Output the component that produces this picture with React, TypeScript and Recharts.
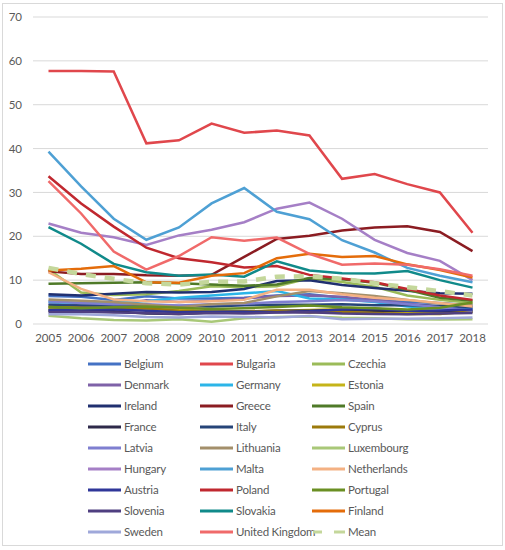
import React from 'react';
import { LineChart, Line, XAxis, YAxis, CartesianGrid, Legend } from 'recharts';

const years = ['2005','2006','2007','2008','2009','2010','2011','2012','2013','2014','2015','2016','2017','2018'];
const yTicks = [0, 10, 20, 30, 40, 50, 60, 70];

const Belgium = [6.4,6.2,5.5,6.3,5.8,5.8,6.0,6.5,6.8,6.0,5.5,5.0,4.8,4.2];
const Bulgaria = [57.7,57.7,57.6,41.2,41.9,45.7,43.6,44.1,43.0,33.1,34.2,31.9,30.0,20.8];
const Czechia = [12.5,7.2,6.6,6.8,7.5,8.6,8.4,8.6,10.4,9.6,8.5,6.5,5.5,4.8];
const Denmark = [4.6,4.2,4.3,5.4,5.0,5.3,5.8,6.4,6.5,6.2,5.5,4.6,4.0,3.5];
const Germany = [5.0,4.8,5.0,5.2,6.0,6.5,7.0,7.5,5.8,5.6,5.0,4.0,3.6,3.3];
const Estonia = [3.4,3.2,3.5,3.5,3.3,2.9,2.9,3.0,3.2,3.4,3.0,2.6,2.6,2.8];
const Ireland = [6.8,6.5,6.9,7.3,7.2,7.3,8.0,9.8,10.0,8.9,8.2,7.6,7.0,6.9];
const Greece = [12.0,11.4,11.4,11.1,11.0,11.2,15.3,19.4,20.1,21.3,22.0,22.3,21.0,16.6];
const Spain = [9.2,9.3,9.4,9.5,9.3,9.0,8.7,9.0,10.5,10.2,9.4,7.8,6.0,5.3];
const France = [3.0,3.0,2.9,2.4,2.3,2.6,2.8,3.0,3.0,3.2,3.0,3.0,2.9,2.9];
const Italy = [4.3,4.2,4.3,4.2,4.1,4.0,4.3,4.4,4.4,4.5,4.3,4.3,4.1,3.9];
const Cyprus = [3.9,3.7,3.6,3.6,3.0,2.8,2.9,3.0,2.6,2.8,2.5,2.3,2.3,2.9];
const Latvia = [5.2,4.8,4.5,4.5,4.2,4.5,4.6,5.0,5.2,5.5,5.2,4.5,3.8,3.0];
const Lithuania = [5.6,5.3,5.0,4.4,3.8,4.5,4.8,6.3,7.5,7.0,6.4,5.5,4.7,4.3];
const Luxembourg = [1.9,1.3,0.9,0.8,1.1,0.5,1.3,1.6,1.7,1.4,1.3,1.1,1.0,1.1];
const Hungary = [22.9,20.8,19.8,18.0,20.2,21.5,23.2,26.3,27.7,24.0,19.2,16.2,14.4,10.0];
const Malta = [39.3,31.4,24.0,19.2,22.0,27.5,31.0,25.6,23.9,19.1,16.3,12.8,11.0,9.5];
const Netherlands = [11.8,8.0,5.6,5.2,5.0,5.2,5.5,7.8,7.8,6.8,6.0,5.5,4.8,4.0];
const Austria = [3.2,3.3,3.3,3.0,2.7,2.8,2.8,2.7,2.9,3.3,3.5,3.0,3.1,3.3];
const Poland = [33.7,27.5,22.2,17.4,15.0,14.1,12.9,13.2,11.2,10.4,9.5,8.0,6.5,5.5];
const Portugal = [3.9,3.6,3.8,4.0,3.7,3.4,3.6,3.9,4.2,3.8,3.6,3.3,3.7,4.9];
const Slovenia = [2.7,2.8,2.6,2.5,2.3,2.5,2.4,2.6,2.7,2.4,2.3,2.2,2.4,2.5];
const Slovakia = [22.1,18.3,13.7,11.8,11.0,11.3,10.8,14.3,12.2,11.6,11.5,12.1,10.0,8.3];
const Finland = [12.2,12.6,13.2,9.5,9.4,11.0,11.6,15.0,16.0,15.3,15.5,13.6,12.3,10.6];
const Sweden = [2.2,2.2,2.0,1.6,1.5,1.7,1.6,1.5,1.8,1.1,1.2,1.2,1.3,1.5];
const UnitedKingdom = [32.6,25.2,16.5,12.4,15.5,19.8,19.0,19.7,16.0,13.5,13.8,13.5,12.5,11.0];
const Mean = [12.8,11.4,10.3,9.3,9.0,9.6,9.7,10.8,10.9,10.3,9.3,8.4,7.5,6.5];

const seriesNames = ['Belgium','Bulgaria','Czechia','Denmark','Germany','Estonia','Ireland','Greece','Spain','France','Italy','Cyprus','Latvia','Lithuania','Luxembourg','Hungary','Malta','Netherlands','Austria','Poland','Portugal','Slovenia','Slovakia','Finland','Sweden','United Kingdom','Mean'];
const seriesValues = [Belgium,Bulgaria,Czechia,Denmark,Germany,Estonia,Ireland,Greece,Spain,France,Italy,Cyprus,Latvia,Lithuania,Luxembourg,Hungary,Malta,Netherlands,Austria,Poland,Portugal,Slovenia,Slovakia,Finland,Sweden,UnitedKingdom,Mean];
const seriesColors = ['#4472C4','#E0474C','#9BBB59','#7F62A8','#2CB5E8','#C5B419','#203070','#8B1C22','#4F7A28','#2E2A4A','#264478','#9C7A0B','#7F7FD0','#A38F6B','#A9C878','#A57FC6','#4EA0D4','#F4B183','#2F3699','#C0282F','#6A8F23','#4F3F80','#108A8A','#E46C0A','#9FA8DA','#F06A6A','#C4D79B'];

const data = years.map((y, i) => {
  const row: Record<string, any> = { year: y };
  seriesNames.forEach((n, k) => { row[n] = seriesValues[k][i]; });
  return row;
});

const FONT = 'Lato, "Open Sans", sans-serif';

const LegendContent = (props: any) => {
  const payload = [...(props.payload || [])].sort(
    (a: any, b: any) => seriesNames.indexOf(a.value) - seriesNames.indexOf(b.value)
  );
  return (
    <div style={{ height: 200, boxSizing: 'border-box', paddingTop: 9, paddingLeft: 88, display: 'grid', gridTemplateColumns: '112px 112px 112px', gridAutoRows: '21px', fontFamily: FONT, fontSize: 11.5, letterSpacing: -0.2, color: '#595959' }}>
      {payload.map((e: any) => (
        <div key={e.value} style={{ display: 'flex', alignItems: 'center', whiteSpace: 'nowrap' }}>
          <svg width={33} height={6} style={{ marginRight: 3, flex: 'none' }}>
            {e.value === 'Mean' ? (
              <g>
                <line x1={1} y1={3} x2={10} y2={3} stroke={e.color} strokeWidth={3} />
                <line x1={22} y1={3} x2={33} y2={3} stroke={e.color} strokeWidth={3} />
              </g>
            ) : (
              <line x1={0} y1={3} x2={33} y2={3} stroke={e.color} strokeWidth={3} />
            )}
          </svg>
          <span>{e.value}</span>
        </div>
      ))}
    </div>
  );
};

export default function App() {
  return (
    <div style={{ position: 'absolute', left: 0, top: 0, width: 505, height: 550, background: '#fff' }}>
      <div style={{ position: 'absolute', left: 2, top: 3, width: 499, height: 541, border: '1px solid #D9D9D9' }} />
      <div style={{ position: 'absolute', left: 0, top: 0 }}>
        <LineChart width={505} height={550} data={data} margin={{ top: 17, right: 17, left: 0, bottom: 6 }}>
          <CartesianGrid vertical={false} stroke="#D9D9D9" strokeWidth={1} />
          <XAxis dataKey="year" axisLine={false} tickLine={false} tickSize={0} tickMargin={10} height={20} padding={{ left: 15.5, right: 15.5 }} interval={0} tick={{ fontFamily: FONT, fontSize: 11.5, fill: '#595959' }} />
          <YAxis domain={[0, 70]} ticks={yTicks} axisLine={false} tickLine={false} tickSize={0} tickMargin={11} width={33} tick={{ fontFamily: FONT, fontSize: 11.5, fill: '#595959' }} />
          {seriesNames.map((n, k) => (
            <Line key={n} type="linear" dataKey={n} stroke={seriesColors[k]} strokeWidth={n === 'Mean' ? 4.5 : 2.5} strokeDasharray={n === 'Mean' ? '10 9' : undefined} dot={false} isAnimationActive={false} />
          ))}
          <Legend verticalAlign="bottom" content={LegendContent} wrapperStyle={{ left: 0, width: 505 }} />
        </LineChart>
      </div>
    </div>
  );
}
